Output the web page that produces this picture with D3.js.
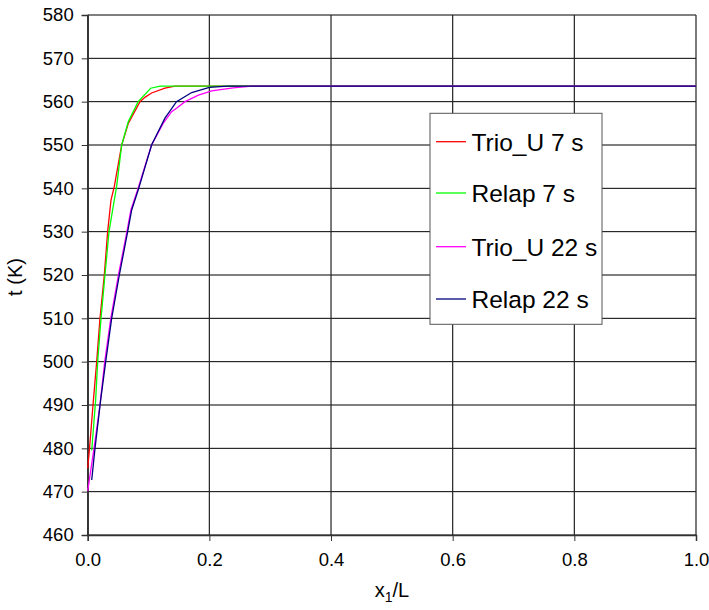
<!DOCTYPE html>
<html>
<head>
<meta charset="utf-8">
<script src="https://cdn.jsdelivr.net/npm/d3@7"></script>
<style>
  body { margin: 0; background: #fff; }
  svg { display: block; font-family: Arial, "Liberation Sans", sans-serif; }
</style>
</head>
<body>
<svg id="chart" width="709" height="610"></svg>
<script>
// series: [x1/L, t (K)]
var trio7 = [[0,475.4],[0.003,480],[0.0087,490],[0.0148,500],[0.0202,510],[0.0273,520],[0.0328,530],[0.0383,537.3],[0.0437,540.4],[0.0559,550],[0.0668,555],[0.086,560],[0.094,561],[0.105,562],[0.127,563.1],[0.1435,563.6],[0.3,563.6],[0.6,563.6],[1.0,563.6]]
var relap7 = [[0.0066,479.5],[0.0131,491.2],[0.0164,500],[0.0219,510],[0.0284,520],[0.035,530],[0.0437,537.3],[0.0475,540.4],[0.0559,550],[0.0668,555.4],[0.083,560],[0.1035,563.1],[0.119,563.6],[0.3,563.6],[0.6,563.6],[1.0,563.6]]
var trio22 = [[0,470.2],[0.0104,480],[0.0202,490],[0.028,500],[0.038,510],[0.0505,520],[0.0645,530],[0.071,535],[0.082,539.6],[0.105,550],[0.124,555],[0.138,557.7],[0.146,558.5],[0.16,560],[0.182,561.5],[0.204,562.5],[0.239,563.2],[0.27,563.6],[0.6,563.6],[1.0,563.6]]
var relap22 = [[0.0066,472.7],[0.012,480],[0.0213,491.2],[0.0296,500],[0.0394,510],[0.052,520],[0.0657,530],[0.0723,535],[0.083,539.6],[0.105,550],[0.127,556.2],[0.146,560],[0.171,562.1],[0.2,563.3],[0.23,563.6],[0.6,563.6],[1.0,563.6]]

var seriesNames = ["Trio_U 7 s","Relap 7 s","Trio_U 22 s","Relap 22 s"]
var seriesColors = ["#ff0000","#00ff00","#ff00ff","#000080"]
var seriesData = [trio7, relap7, trio22, relap22]

var xTicks = [0,0.2,0.4,0.6,0.8,1.0]
var yTicks = [460,470,480,490,500,510,520,530,540,550,560,570,580]

var svg = d3.select("#chart")
var pLeft = 87.7, pRight = 696, pTop = 15, pBottom = 535

var x = d3.scaleLinear().domain([0,1]).range([pLeft,pRight])
var y = d3.scaleLinear().domain([460,580]).range([pBottom,pTop])

// grid
svg.append("g").selectAll("line").data(yTicks).enter().append("line")
    .attr("x1", pLeft).attr("x2", pRight)
    .attr("y1", function(d){return y(d)}).attr("y2", function(d){return y(d)})
    .attr("stroke","#000").attr("stroke-width",1)
svg.append("g").selectAll("line").data(xTicks).enter().append("line")
    .attr("y1", pTop).attr("y2", pBottom)
    .attr("x1", function(d){return x(d)}).attr("x2", function(d){return x(d)})
    .attr("stroke","#222").attr("stroke-width",1.2)

// axes
svg.append("g").attr("transform","translate("+pLeft+",0)")
    .call(d3.axisLeft(y).tickValues(yTicks).tickSize(6).tickPadding(8).tickFormat(d3.format("d")))
svg.append("g").attr("transform","translate(0,"+pBottom+")")
    .call(d3.axisBottom(x).tickValues(xTicks).tickSize(6).tickPadding(12).tickFormat(d3.format(".1f")))
svg.selectAll(".domain").attr("stroke","#333").attr("stroke-width",1.5)
svg.selectAll(".tick line").attr("stroke","#333")
svg.selectAll(".tick text").attr("fill","#000").style("font-size","18.5px").style("font-family","Arial, 'Liberation Sans', sans-serif")

// curves
var line = d3.line().x(function(d){return x(d[0])}).y(function(d){return y(d[1])})
for(i=0;i<seriesData.length;i++)
{
    svg.append("path").datum(seriesData[i])
        .attr("d", line)
        .attr("fill","none")
        .attr("stroke", seriesColors[i])
        .attr("stroke-width",1.3)
}

// axis titles
svg.append("text").attr("transform","translate(22,277) rotate(-90)")
    .attr("text-anchor","middle").style("font-size","20px").text("t (K)")
var xt = svg.append("text").attr("x",392).attr("y",597)
    .attr("text-anchor","middle").style("font-size","20px")
xt.append("tspan").text("x")
xt.append("tspan").attr("dy",5).style("font-size","14px").text("1")
xt.append("tspan").attr("dy",-5).text("/L")

// legend
var lg = svg.append("g")
lg.append("rect").attr("x",430).attr("y",113.3).attr("width",172).attr("height",211)
    .attr("fill","#fff").attr("stroke","#555").attr("stroke-width",1)
var legY = [141.7,193,246.7,299]
for(i=0;i<seriesNames.length;i++)
{
    lg.append("line").attr("x1",436).attr("x2",466).attr("y1",legY[i]).attr("y2",legY[i])
        .attr("stroke",seriesColors[i]).attr("stroke-width",1.3)
    lg.append("text").attr("x",471.5).attr("y",legY[i]).attr("dy","0.36em")
        .style("font-size","24.5px").text(seriesNames[i])
}
</script>
</body>
</html>
